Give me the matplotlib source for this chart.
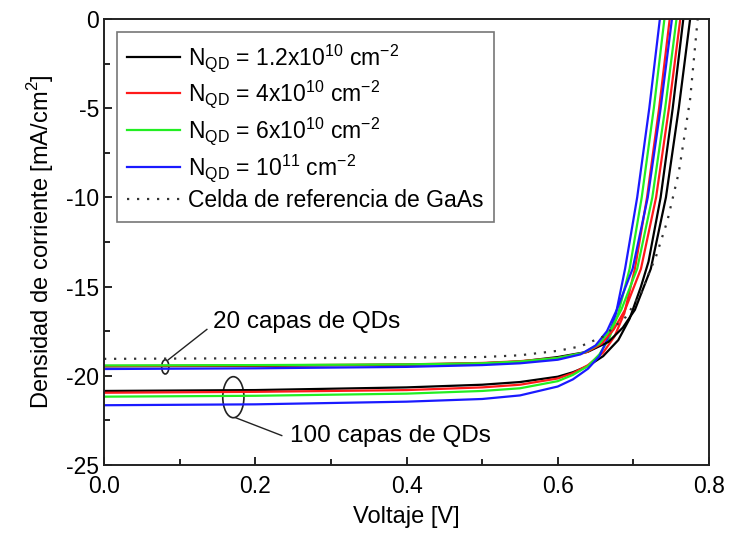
import matplotlib.pyplot as plt
from matplotlib.patches import Ellipse

plt.rcParams["font.family"] = ["Liberation Sans", "DejaVu Sans"]
plt.rcParams["axes.unicode_minus"] = False

# reference GaAs cell
v_ref = [0.0, 0.3, 0.5, 0.55, 0.6, 0.63, 0.66, 0.69, 0.71, 0.72, 0.73, 0.745, 0.76, 0.775, 0.785]
j_ref = [-19.05, -19.0, -18.95, -18.85, -18.6, -18.35, -17.8, -16.7, -15.4, -14.3, -13.3, -11.3, -8.6, -4.5, 0.0]

# 20 QD layers
v_k20 = [0.0, 0.2, 0.4, 0.5, 0.55, 0.6, 0.64, 0.667, 0.686, 0.702, 0.723, 0.743, 0.76, 0.775]
j_k20 = [-19.47, -19.44, -19.38, -19.3, -19.2, -18.95, -18.65, -18.1, -17.3, -16.3, -14.0, -10.0, -5.0, 0.0]
v_r20 = [0.0, 0.2, 0.4, 0.5, 0.55, 0.6, 0.637, 0.658, 0.674, 0.689, 0.71, 0.73, 0.747, 0.762]
j_r20 = [-19.45, -19.42, -19.36, -19.28, -19.18, -19.0, -18.7, -18.2, -17.4, -16.3, -14.0, -10.0, -5.0, 0.0]
v_g20 = [0.0, 0.2, 0.4, 0.5, 0.55, 0.6, 0.635, 0.655, 0.67, 0.684, 0.705, 0.725, 0.742, 0.757]
j_g20 = [-19.42, -19.4, -19.36, -19.3, -19.2, -19.0, -18.7, -18.2, -17.4, -16.3, -14.0, -10.0, -5.0, 0.0]
v_b20 = [0.0, 0.2, 0.4, 0.5, 0.55, 0.6, 0.63, 0.65, 0.665, 0.678, 0.699, 0.719, 0.736, 0.751]
j_b20 = [-19.62, -19.58, -19.5, -19.4, -19.3, -19.1, -18.8, -18.3, -17.5, -16.3, -14.0, -10.0, -5.0, 0.0]

# 100 QD layers
v_k100 = [0.0, 0.2, 0.4, 0.5, 0.55, 0.6, 0.62, 0.64, 0.66, 0.68, 0.695, 0.71, 0.72, 0.736, 0.752, 0.766]
j_k100 = [-20.85, -20.8, -20.65, -20.5, -20.35, -20.05, -19.8, -19.45, -18.9, -18.0, -16.8, -15.0, -13.6, -10.0, -5.0, 0.0]
v_r100 = [0.0, 0.2, 0.4, 0.5, 0.55, 0.6, 0.62, 0.64, 0.66, 0.675, 0.688, 0.702, 0.718, 0.734, 0.748]
j_r100 = [-20.95, -20.9, -20.8, -20.65, -20.5, -20.15, -19.85, -19.4, -18.7, -17.8, -16.5, -14.0, -10.0, -5.0, 0.0]
v_g100 = [0.0, 0.2, 0.4, 0.5, 0.55, 0.6, 0.62, 0.64, 0.655, 0.668, 0.68, 0.695, 0.711, 0.727, 0.741]
j_g100 = [-21.17, -21.12, -21.0, -20.85, -20.7, -20.3, -19.95, -19.45, -18.8, -17.9, -16.5, -14.0, -10.0, -5.0, 0.0]
v_b100 = [0.0, 0.2, 0.4, 0.5, 0.55, 0.6, 0.62, 0.64, 0.655, 0.665, 0.677, 0.689, 0.705, 0.721, 0.735]
j_b100 = [-21.65, -21.6, -21.45, -21.3, -21.1, -20.6, -20.2, -19.6, -18.9, -18.0, -16.5, -14.0, -10.0, -5.0, 0.0]

labels = [
    r"N$_{\mathregular{QD}}$ = 1.2x10$^{\mathregular{10}}$ cm$^{\mathregular{-2}}$",
    r"N$_{\mathregular{QD}}$ = 4x10$^{\mathregular{10}}$ cm$^{\mathregular{-2}}$",
    r"N$_{\mathregular{QD}}$ = 6x10$^{\mathregular{10}}$ cm$^{\mathregular{-2}}$",
    r"N$_{\mathregular{QD}}$ = 10$^{\mathregular{11}}$ cm$^{\mathregular{-2}}$",
    "Celda de referencia de GaAs",
]
colors = ["black", "#ff1a1a", "#22ee22", "#1a1aff"]

fig = plt.figure(figsize=(7.29, 5.4), dpi=100)
ax = fig.add_axes([0.1427, 0.1389, 0.8299, 0.8259])

lw = 1.6
curves20 = [(v_k20, j_k20), (v_r20, j_r20), (v_g20, j_g20), (v_b20, j_b20)]
curves100 = [(v_k100, j_k100), (v_r100, j_r100), (v_g100, j_g100), (v_b100, j_b100)]
handles = []
for (v, j), c, lab in zip(curves100, colors, labels):
    h, = ax.plot(v, j, color=c, lw=lw, label=lab)
    handles.append(h)
for (v, j), c in zip(curves20, colors):
    ax.plot(v, j, color=c, lw=lw)
h, = ax.plot(v_ref, j_ref, color="#333333", lw=1.6, ls=(0, (1, 3.5)), label=labels[4])
handles.append(h)

ax.set_xlim(0, 0.8)
ax.set_ylim(-25, 0)
ax.set_xticks([0.0, 0.2, 0.4, 0.6, 0.8])
ax.set_xticks([0.1, 0.3, 0.5, 0.7], minor=True)
ax.set_yticks([0, -5, -10, -15, -20, -25])
ax.set_yticks([-2.5, -7.5, -12.5, -17.5, -22.5], minor=True)
ax.tick_params(which="both", direction="in", top=False, right=False, labelsize=16.5, width=1.2)
ax.tick_params(which="major", length=6)
ax.tick_params(which="minor", length=4)
ax.tick_params(axis="x", pad=7)
for s in ax.spines.values():
    s.set_linewidth(1.4)
    s.set_color("#222222")

ax.set_xlabel("Voltaje [V]", fontsize=17, labelpad=6)
ax.set_ylabel(r"Densidad de corriente [mA/cm$^{\mathregular{2}}$]", fontsize=17, labelpad=7)

leg = ax.legend(handles=handles, loc="upper left", fontsize=16.5, frameon=True, fancybox=False,
                edgecolor="#555555", handlelength=2.3, handletextpad=0.35, labelspacing=0.22,
                borderpad=0.45, borderaxespad=0, bbox_to_anchor=(0.0215, 0.971))
leg.get_frame().set_linewidth(1.2)

# annotations
ax.add_patch(Ellipse((0.081, -19.5), 0.0095, 0.8, fill=False, lw=1.2, ec="#222222"))
ax.plot([0.085, 0.136], [-19.1, -17.4], color="#222222", lw=1.0)
ax.text(0.144, -17.0, "20 capas de QDs", fontsize=17.5, va="center", ha="left")

ax.add_patch(Ellipse((0.171, -21.2), 0.028, 2.3, fill=False, lw=1.2, ec="#222222"))
ax.plot([0.174, 0.235], [-22.35, -23.35], color="#222222", lw=1.0)
ax.text(0.246, -23.35, "100 capas de QDs", fontsize=17.5, va="center", ha="left")

fig.savefig("out.png", dpi=100)
